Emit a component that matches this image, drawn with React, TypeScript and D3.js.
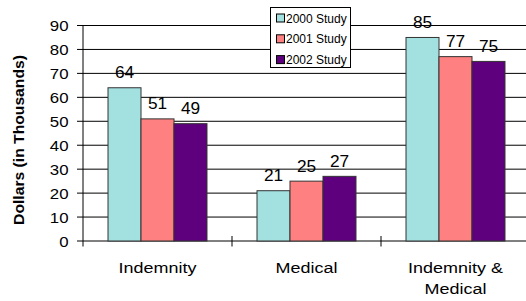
import * as d3 from "d3";

const W = 526, H = 301;
const LEFT = 83, TOP = 25.5, BOTTOM = 241, CAT_W = 149;

const categories = ["Indemnity", "Medical", "Indemnity & Medical"];
const categoryLines = [["Indemnity"], ["Medical"], ["Indemnity &", "Medical"]];
const series = ["2000 Study", "2001 Study", "2002 Study"];
const colors = ["#A3E0E0", "#FF8080", "#5E007E"];
const values = [
  [64, 21, 85], // 2000 Study
  [51, 25, 77], // 2001 Study
  [49, 27, 75], // 2002 Study
];
const yTicks = [0, 10, 20, 30, 40, 50, 60, 70, 80, 90];

const FONT = "Arial, 'Liberation Sans', sans-serif";

export default function App() {
  const x = d3.scaleBand(categories, [LEFT, LEFT + CAT_W * categories.length]).paddingInner(0);
  const xs = d3.scaleBand(series, [0, CAT_W]).paddingInner(0).paddingOuter(0.758);
  const y = d3.scaleLinear([0, 90], [BOTTOM, TOP]);
  const right = LEFT + CAT_W * categories.length;

  return (
    <svg width={W} height={H} style={{ position: "absolute", left: 0, top: 0, background: "#fff" }}
      fontFamily={FONT}>
      {/* gridlines and y ticks */}
      {yTicks.map((t) => (
        <g key={t}>
          <line x1={LEFT} x2={right} y1={y(t)} y2={y(t)} stroke="#000" strokeWidth={1} />
          <line x1={LEFT - 6} x2={LEFT} y1={y(t)} y2={y(t)} stroke="#000" strokeWidth={1} />
          <g transform={`translate(${LEFT - 14.5},${y(t) + 5.5}) scale(1.2,1)`}>
            <text textAnchor="end" fontSize={14} fill="#000">{t}</text>
          </g>
        </g>
      ))}

      {/* y axis */}
      <line x1={LEFT} x2={LEFT} y1={TOP} y2={BOTTOM + 5.5} stroke="#000" strokeWidth={1} />
      {/* category separators */}
      {categories.map((c, i) => (
        <line key={c} x1={(x(c) ?? 0) + CAT_W} x2={(x(c) ?? 0) + CAT_W}
          y1={BOTTOM - 5} y2={BOTTOM + 5.5} stroke="#000" strokeWidth={1}
          opacity={i === categories.length - 1 ? 0 : 1} />
      ))}

      {/* bars */}
      {series.map((s, si) =>
        categories.map((c, ci) => {
          const v = values[si][ci];
          const bx = (x(c) ?? 0) + (xs(s) ?? 0);
          const bw = xs.bandwidth();
          return (
            <g key={s + c}>
              <rect x={bx} y={y(v)} width={bw} height={BOTTOM - y(v)} fill={colors[si]}
                stroke="#333" strokeWidth={1} />
              <g transform={`translate(${bx + bw / 2},${y(v) - 9.5}) scale(1.08,1)`}>
                <text textAnchor="middle" fontSize={16} fill="#000">{v}</text>
              </g>
            </g>
          );
        })
      )}

      {/* category labels */}
      {categories.map((c, ci) => (
        <g key={c}>
          {categoryLines[ci].map((ln, li) => (
            <g key={ln} transform={`translate(${(x(c) ?? 0) + CAT_W / 2},${272.5 + li * 21}) scale(1.24,1)`}>
              <text textAnchor="middle" fontSize={14.5} fill="#000">{ln}</text>
            </g>
          ))}
        </g>
      ))}

      {/* y title */}
      <g transform={`translate(24,140) rotate(-90) scale(1.12,1)`}>
        <text textAnchor="middle" fontSize={14} fontWeight="bold" fill="#000">
          Dollars (in Thousands)
        </text>
      </g>

      {/* legend */}
      <g>
        <rect x={270.5} y={7.5} width={80} height={60} fill="#fff" stroke="#000" strokeWidth={1} />
        {series.map((s, si) => (
          <g key={s} transform={`translate(276,${13.5 + si * 20.8})`}>
            <rect x={0.5} y={0.5} width={8} height={8} fill={colors[si]} stroke="#000" strokeWidth={1} />
            <text x={10} y={9} fontSize={12} fill="#000">{s}</text>
          </g>
        ))}
      </g>
    </svg>
  );
}
